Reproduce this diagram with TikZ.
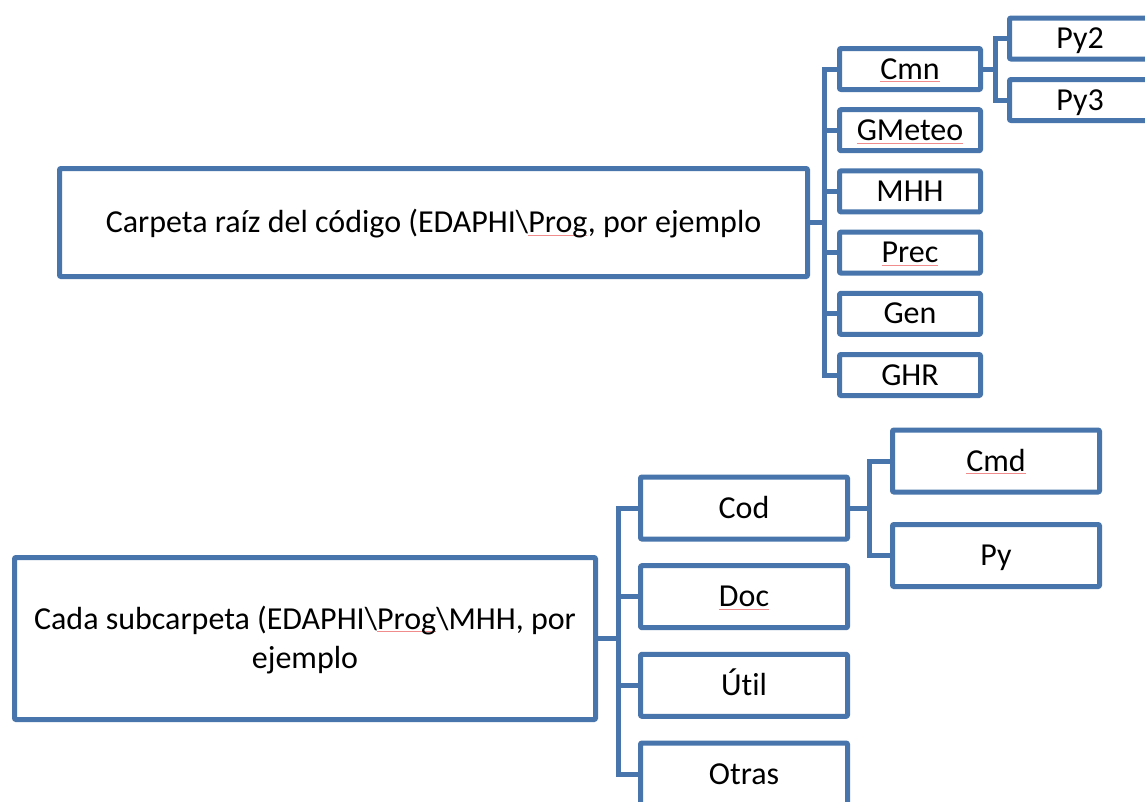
\documentclass[tikz,border=0pt]{standalone}
\usepackage{fontspec}
\setmainfont{Carlito}[Ligatures=CommonOff]
\usepackage{tikz}
\usetikzlibrary{calc,positioning}
\definecolor{folderblue}{RGB}{72,117,172}
\definecolor{spellred}{RGB}{240,140,140}
\newlength\spellwd
\newcommand{\spellmark}[1]{\settowidth{\spellwd}{#1}\rlap{\textcolor{spellred}{\rule[-0.1em]{\spellwd}{0.8pt}}}#1}
\tikzset{
 folder/.style={draw=folderblue,line width=5pt,fill=white,rounded corners=1pt,
  inner sep=0pt,align=center,text height=27pt,text depth=7pt,
  font=\fontsize{32}{39}\selectfont},
 small/.style={folder,minimum width=141pt,minimum height=41pt},
 wide/.style={folder,minimum width=207pt,minimum height=62pt},
 link/.style={draw=folderblue,line width=5pt},
 trunk/.style={link,line cap=rect}
}
\begin{document}
\begin{tikzpicture}[x=1pt,y=-1pt,line join=round]
\useasboundingbox (0,0) rectangle (1145,801);
\fill[white] (0,0) rectangle (1145,801);
\clip (0,0) rectangle (1145,801);
% arbol de la carpeta raiz
\node[folder,minimum width=748pt,minimum height=108pt] (root) at (433.5,222.5)
 {Carpeta raíz del código (EDAPHI\textbackslash\spellmark{Prog}, por ejemplo};
\node[small] (cmn) at (910,69) {\spellmark{Cmn}};
\node[small] (gmeteo) at (910,130.2) {\spellmark{GMeteo}};
\node[small] (mhh) at (910,191.4) {MHH};
\node[small] (prec) at (910,252.6) {\spellmark{Prec}};
\node[small] (gen) at (910,313.8) {Gen};
\node[small] (ghr) at (910,375) {GHR};
\node[small] (pytwo) at (1080,38.5) {Py2};
\node[small] (pythree) at (1080,100) {Py3};
\coordinate (ta) at (824,0);
\coordinate (tb) at (995,0);
\draw[link] (root.east) -- (root.east -| ta);
\draw[trunk] (cmn.west -| ta) -- (ghr.west -| ta);
\foreach \n in {cmn,gmeteo,mhh,prec,gen,ghr}
 \draw[link] (\n.west) -- (\n.west -| ta);
\draw[link] (cmn.east) -- (cmn.east -| tb);
\draw[trunk] (pytwo.west -| tb) -- (pythree.west -| tb);
\foreach \n in {pytwo,pythree}
 \draw[link] (\n.west) -- (\n.west -| tb);
% arbol de cada subcarpeta
\node[folder,minimum width=581pt,minimum height=162pt,text height=66pt] (subroot) at (305,638.5)
 {Cada subcarpeta (EDAPHI\textbackslash\spellmark{Prog}\textbackslash MHH, por\\ejemplo};
\node[wide] (cod) at (744,508) {Cod};
\node[wide] (doc) at (744,596.7) {\spellmark{Doc}};
\node[wide] (util) at (744,685.3) {Útil};
\node[wide] (otras) at (744,774) {Otras};
\node[wide] (cmd) at (996,461) {\spellmark{Cmd}};
\node[wide] (py) at (996,555.5) {Py};
\coordinate (tc) at (618.5,0);
\coordinate (td) at (869,0);
\draw[link] (subroot.east) -- (subroot.east -| tc);
\draw[trunk] (cod.west -| tc) -- (otras.west -| tc);
\foreach \n in {cod,doc,util,otras}
 \draw[link] (\n.west) -- (\n.west -| tc);
\draw[link] (cod.east) -- (cod.east -| td);
\draw[trunk] (cmd.west -| td) -- (py.west -| td);
\foreach \n in {cmd,py}
 \draw[link] (\n.west) -- (\n.west -| td);
\end{tikzpicture}
\end{document}
